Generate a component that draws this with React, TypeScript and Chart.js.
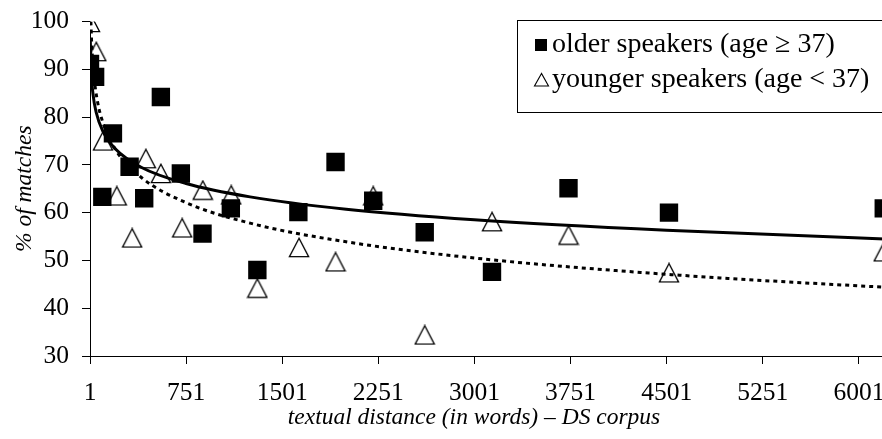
import React, { useEffect, useRef } from "react";
import { Chart, registerables } from "chart.js";

Chart.register(...registerables);

const FONT = '"Liberation Serif", "Times New Roman", Times, serif';

// older speakers (age >= 37) – squares
const olderX = [1, 41, 97, 180, 310, 424, 554, 710, 879, 1100, 1307, 1627, 1917, 2211, 2613, 3138, 3735, 4519, 6195];
const olderY = [91.1, 88.4, 63.3, 76.6, 69.6, 63.0, 84.2, 68.2, 55.6, 60.9, 48.0, 60.1, 70.6, 62.5, 55.9, 47.6, 65.1, 60.0, 60.9];

// younger speakers (age < 37) – triangles
const youngerX = [1, 50, 102, 210, 330, 437, 554, 720, 881, 1103, 1307, 1632, 1917, 2211, 2613, 3138, 3735, 4519, 6195];
const youngerY = [99.8, 93.7, 75.0, 63.5, 54.7, 71.3, 68.2, 56.8, 64.7, 63.7, 44.2, 52.7, 49.7, 63.5, 34.4, 58.1, 55.3, 47.4, 51.8];

// trend curves, values
const olderTrendX = [3, 10, 25, 50, 100, 200, 400, 750, 1250, 2000, 3000, 4500, 6200, 6751];
const olderTrendY = [96.3, 89.7, 84.7, 80.9, 77.1, 73.3, 69.5, 66.1, 63.3, 60.7, 58.5, 56.3, 54.5, 54.0];
const youngerTrendX = [8, 15, 30, 60, 100, 200, 400, 750, 1250, 2000, 3000, 4500, 6200, 6751];
const youngerTrendY = [100.0, 94.8, 89.0, 83.2, 79.0, 73.2, 67.4, 62.1, 57.8, 53.9, 50.5, 47.1, 44.4, 43.7];

// axis ticks
const xTicks = [1, 751, 1501, 2251, 3001, 3751, 4501, 5251, 6001, 6751];
const yTicks = [30, 40, 50, 60, 70, 80, 90, 100];

const legendLabels = ["older speakers (age \u2265 37)", "younger speakers (age < 37)"];
const xTitle = "textual distance (in words) \u2013 DS corpus";
const yTitle = "% of matches";

function makeTriangle(): HTMLCanvasElement {
  const c = document.createElement("canvas");
  c.width = 22;
  c.height = 21;
  const g = c.getContext("2d")!;
  g.beginPath();
  g.moveTo(11, 1.2);
  g.lineTo(1.4, 19.6);
  g.lineTo(20.6, 19.6);
  g.closePath();
  g.fillStyle = "#fff";
  g.fill();
  g.lineWidth = 1.3;
  g.strokeStyle = "#000";
  g.stroke();
  return c;
}

const decorPlugin = {
  id: "decor",
  afterDraw(chart: any) {
    const ctx = chart.ctx as CanvasRenderingContext2D;
    ctx.save();
    // legend box
    ctx.fillStyle = "#fff";
    ctx.fillRect(517.5, 20.5, 440, 92);
    ctx.strokeStyle = "#000";
    ctx.lineWidth = 1;
    ctx.strokeRect(517.5, 20.5, 440, 92);
    const r1 = 45;
    const r2 = 80;
    // square marker
    ctx.fillStyle = "#000";
    ctx.fillRect(535, r1 - 6, 12, 12);
    // triangle marker
    ctx.beginPath();
    ctx.moveTo(541.5, r2 - 6.5);
    ctx.lineTo(534.5, r2 + 6);
    ctx.lineTo(548.5, r2 + 6);
    ctx.closePath();
    ctx.lineWidth = 1.1;
    ctx.stroke();
    ctx.fillStyle = "#000";
    ctx.font = `28px ${FONT}`;
    ctx.textAlign = "left";
    ctx.textBaseline = "middle";
    ctx.fillText(legendLabels[0], 552, r1);
    ctx.fillText(legendLabels[1], 552, r2);
    // x axis title
    ctx.font = `italic 23.5px ${FONT}`;
    ctx.textAlign = "center";
    ctx.fillText(xTitle, 474, 418);
    ctx.restore();
  },
};

export default function App() {
  const ref = useRef<HTMLCanvasElement | null>(null);

  useEffect(() => {
    document.body.style.margin = "0";
    const canvas = ref.current;
    if (!canvas) return;
    const tri = makeTriangle();
    const toPts = (xs: number[], ys: number[]) => xs.map((x, i) => ({ x, y: ys[i] }));

    const chart = new Chart(canvas, {
      type: "scatter",
      data: {
        datasets: [
          {
            label: "older trend",
            data: toPts(olderTrendX, olderTrendY),
            showLine: true,
            borderColor: "#000",
            borderWidth: 3,
            pointRadius: 0,
            cubicInterpolationMode: "monotone",
          } as any,
          {
            label: "younger trend",
            data: toPts(youngerTrendX, youngerTrendY),
            showLine: true,
            borderColor: "#000",
            borderWidth: 3,
            borderDash: [4, 4],
            pointRadius: 0,
            cubicInterpolationMode: "monotone",
          } as any,
          {
            label: legendLabels[0],
            data: toPts(olderX, olderY),
            pointStyle: "rect",
            pointRadius: 13,
            pointBackgroundColor: "#000",
            pointBorderWidth: 0,
            borderColor: "#000",
          } as any,
          {
            label: legendLabels[1],
            data: toPts(youngerX, youngerY),
            pointStyle: tri,
            pointRadius: 11,
            pointBorderWidth: 0,
          } as any,
        ],
      },
      options: {
        animation: false,
        responsive: false,
        devicePixelRatio: 1,
        layout: { padding: { left: 0, top: 21.5, right: 30, bottom: 0 } },
        plugins: {
          legend: { display: false },
          tooltip: { enabled: false },
        },
        scales: {
          x: {
            type: "linear",
            min: 1,
            max: 6751,
            afterBuildTicks: (s: any) => {
              s.ticks = xTicks.map((v) => ({ value: v }));
            },
            afterFit: (s: any) => {
              s.height = 83;
              s.paddingLeft = 0;
              s.paddingRight = 0;
            },
            ticks: {
              color: "#000",
              font: { family: FONT, size: 25.5 },
              padding: 14,
              maxRotation: 0,
              autoSkip: false,
              callback: (v: any) => String(v),
            },
            grid: { drawOnChartArea: false, drawTicks: true, tickLength: 8, color: "#000" },
            border: { display: true, color: "#000", width: 1 },
          },
          y: {
            type: "linear",
            min: 30,
            max: 100,
            afterBuildTicks: (s: any) => {
              s.ticks = yTicks.map((v) => ({ value: v }));
            },
            afterFit: (s: any) => {
              s.width = 90;
              s.paddingTop = 0;
              s.paddingBottom = 0;
            },
            ticks: {
              color: "#000",
              font: { family: FONT, size: 25.5 },
              padding: 13,
              callback: (v: any) => String(v),
            },
            grid: { drawOnChartArea: false, drawTicks: true, tickLength: 8, color: "#000" },
            border: { display: true, color: "#000", width: 1 },
            title: {
              display: true,
              text: yTitle,
              color: "#000",
              font: { family: FONT, size: 23.5, style: "italic" },
              padding: { top: 11, bottom: 0 },
            },
          },
        },
      },
      plugins: [decorPlugin],
    });
    return () => chart.destroy();
  }, []);

  return (
    <div style={{ width: 882, height: 439, overflow: "hidden" }}>
      <canvas ref={ref} width={985} height={439} style={{ display: "block" }} />
    </div>
  );
}
